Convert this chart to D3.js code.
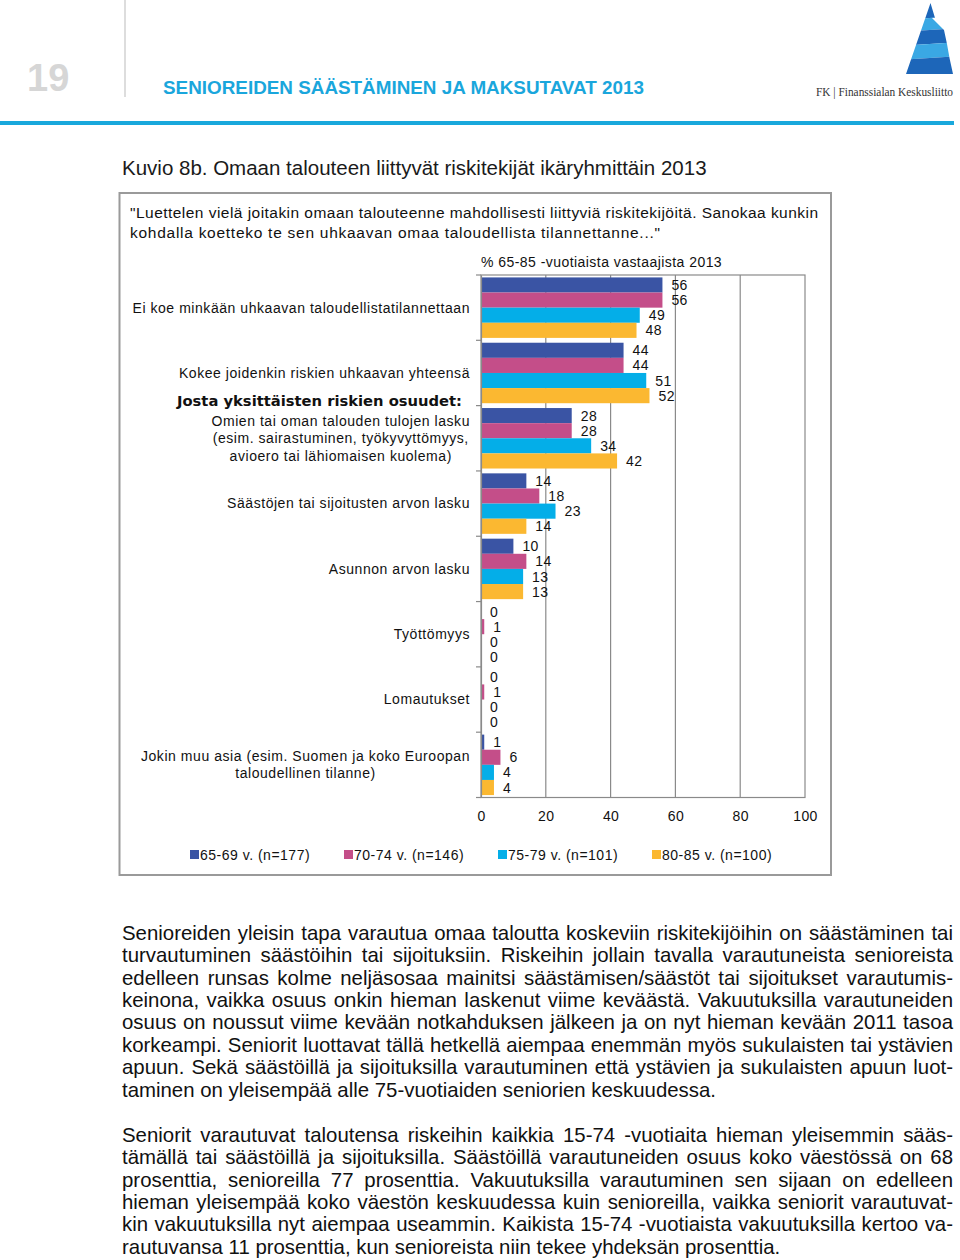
<!DOCTYPE html>
<html>
<head>
<meta charset="utf-8">
<script src="https://cdn.jsdelivr.net/npm/d3@7"></script>
<style>
  html, body { margin: 0; padding: 0; background: #fff; }
  svg { display: block; }
  text { font-family: "Liberation Sans", Arial, sans-serif; }
</style>
</head>
<body>
<svg id="page" width="960" height="1260"></svg>
<script>
// ---------------- DATA ----------------
const categoryLabels = [
  ["Ei koe minkään uhkaavan taloudellistatilannettaan"],
  ["Kokee joidenkin riskien uhkaavan yhteensä"],
  ["Omien tai oman talouden tulojen lasku", "(esim. sairastuminen, työkyvyttömyys,", "avioero tai lähiomaisen kuolema)"],
  ["Säästöjen tai sijoitusten arvon lasku"],
  ["Asunnon arvon lasku"],
  ["Työttömyys"],
  ["Lomautukset"],
  ["Jokin muu asia (esim. Suomen ja koko Euroopan", "taloudellinen tilanne)"]
];
const seriesNames = ["65-69 v. (n=177)", "70-74 v. (n=146)", "75-79 v. (n=101)", "80-85 v. (n=100)"];
const values6569 = [56, 44, 28, 14, 10, 0, 0, 1];
const values7074 = [56, 44, 28, 18, 14, 1, 1, 6];
const values7579 = [49, 51, 34, 23, 13, 0, 0, 4];
const values8085 = [48, 52, 42, 14, 13, 0, 0, 4];
const seriesColors = ["#3a54a4", "#c44e89", "#04aee8", "#fbb831"];
const xTickValues = [0, 20, 40, 60, 80, 100];

const pageNumber = "19";
const headerTitle = "SENIOREIDEN SÄÄSTÄMINEN JA MAKSUTAVAT 2013";
const logoText = "FK | Finanssialan Keskusliitto";
const figureTitle = "Kuvio 8b. Omaan talouteen liittyvät riskitekijät ikäryhmittäin 2013";
const questionLines = [
  "\"Luettelen vielä joitakin omaan talouteenne mahdollisesti liittyviä riskitekijöitä. Sanokaa kunkin",
  "kohdalla koetteko te sen uhkaavan omaa taloudellista tilannettanne...\""
];
const unitLabel = "% 65-85 -vuotiaista vastaajista 2013";
const subHeader = "Josta yksittäisten riskien osuudet:";

const paragraph1 = [
  "Senioreiden yleisin tapa varautua omaa taloutta koskeviin riskitekijöihin on säästäminen tai",
  "turvautuminen säästöihin tai sijoituksiin. Riskeihin jollain tavalla varautuneista senioreista",
  "edelleen runsas kolme neljäsosaa mainitsi säästämisen/säästöt tai sijoitukset varautumis-",
  "keinona, vaikka osuus onkin hieman laskenut viime keväästä. Vakuutuksilla varautuneiden",
  "osuus on noussut viime kevään notkahduksen jälkeen ja on nyt hieman kevään 2011 tasoa",
  "korkeampi. Seniorit luottavat tällä hetkellä aiempaa enemmän myös sukulaisten tai ystävien",
  "apuun. Sekä säästöillä ja sijoituksilla varautuminen että ystävien ja sukulaisten apuun luot-",
  "taminen on yleisempää alle 75-vuotiaiden seniorien keskuudessa."
];
const paragraph2 = [
  "Seniorit varautuvat taloutensa riskeihin kaikkia 15-74 -vuotiaita hieman yleisemmin sääs-",
  "tämällä tai säästöillä ja sijoituksilla. Säästöillä varautuneiden osuus koko väestössä on 68",
  "prosenttia, senioreilla 77 prosenttia. Vakuutuksilla varautuminen sen sijaan on edelleen",
  "hieman yleisempää koko väestön keskuudessa kuin senioreilla, vaikka seniorit varautuvat-",
  "kin vakuutuksilla nyt aiempaa useammin. Kaikista 15-74 -vuotiaista vakuutuksilla kertoo va-",
  "rautuvansa 11 prosenttia, kun senioreista niin tekee yhdeksän prosenttia."
];

// ---------------- DRAW ----------------
const svg = d3.select("#page");
svg.append("rect").attr("width", 960).attr("height", 1260).attr("fill", "#fff");

// Header
svg.append("text").attr("x", 27).attr("y", 91).text(pageNumber)
  .attr("font-size", 38).attr("font-weight", "bold").attr("fill", "#d6d6d6");
svg.append("line").attr("x1", 125).attr("x2", 125).attr("y1", 0).attr("y2", 97)
  .attr("stroke", "#dddddd").attr("stroke-width", 2);
svg.append("text").attr("x", 163).attr("y", 94).text(headerTitle)
  .attr("font-size", 18.5).attr("font-weight", "bold").attr("fill", "#1aa6dc")
  .attr("textLength", 481).attr("lengthAdjust", "spacingAndGlyphs");
svg.append("rect").attr("x", 0).attr("y", 121).attr("width", 954).attr("height", 4).attr("fill", "#19a8dc");

// Logo
const logo = svg.append("g");
const outline = [[930.5,3],[935,18],[932,18],[944,30],[947,44],[949.5,58],[953,74],[906,74]];
logo.append("clipPath").attr("id", "logoclip").append("polygon")
  .attr("points", outline.map(p => p.join(",")).join(" "));
const stripes = [[0, 18, "#1d66b9"], [18, 30, "#3aa8e4"], [30, 44, "#1d66b9"], [44, 58, "#3aa8e4"], [58, 80, "#1d66b9"]];
stripes.forEach(([a, b, c]) => {
  logo.append("polygon").attr("clip-path", "url(#logoclip)")
    .attr("points", `900,${a+2} 960,${a-2} 960,${b-2} 900,${b+2}`).attr("fill", c);
});
svg.append("text").attr("x", 816).attr("y", 96).text(logoText)
  .attr("font-size", 11.5).attr("fill", "#333").attr("textLength", 137).attr("lengthAdjust", "spacingAndGlyphs")
  .style("font-family", "'Liberation Serif', serif");

// Figure title
svg.append("text").attr("x", 122).attr("y", 175).text(figureTitle)
  .attr("font-size", 20.5).attr("fill", "#1a1a1a");

// Chart box
svg.append("rect").attr("x", 119.5).attr("y", 193).attr("width", 711.5).attr("height", 682)
  .attr("fill", "#fff").attr("stroke", "#9a9a9a").attr("stroke-width", 2);

const questionWidths = [688, 530];
questionLines.forEach((t, i) => {
  svg.append("text").attr("x", 130).attr("y", 218 + i * 20).text(t)
    .attr("font-size", 15.5).attr("fill", "#111")
    .attr("textLength", questionWidths[i]).attr("lengthAdjust", "spacing");
});
svg.append("text").attr("x", 481).attr("y", 267).text(unitLabel)
  .attr("font-size", 14).attr("letter-spacing", 0.45).attr("fill", "#111");

// Plot
const plot = { left: 481, right: 805, top: 275, bottom: 797.5 };
const x = d3.scaleLinear().domain([0, 100]).range([plot.left, plot.right]);
const catIdx = d3.range(categoryLabels.length);
const y0 = d3.scaleBand().domain(catIdx).range([plot.top, plot.bottom]).padding(0);
const y1 = d3.scaleBand().domain(d3.range(seriesNames.length)).range([0, y0.bandwidth()])
  .paddingInner(0).paddingOuter(0.16);
const seriesValues = [values6569, values7074, values7579, values8085];

// gridlines
svg.append("g").selectAll("line").data(xTickValues.slice(1, -1)).join("line")
  .attr("x1", d => x(d)).attr("x2", d => x(d)).attr("y1", plot.top).attr("y2", plot.bottom)
  .attr("stroke", "#8a8a8a").attr("stroke-width", 1.2);
// frame
svg.append("rect").attr("x", plot.left).attr("y", plot.top)
  .attr("width", plot.right - plot.left).attr("height", plot.bottom - plot.top)
  .attr("fill", "none").attr("stroke", "#8a8a8a").attr("stroke-width", 1.2);

// bars
const barsG = svg.append("g");
seriesValues.forEach((vals, s) => {
  barsG.append("g").selectAll("rect").data(vals).join("rect")
    .attr("x", x(0))
    .attr("y", (d, i) => y0(i) + y1(s))
    .attr("width", d => x(d) - x(0))
    .attr("height", y1.bandwidth())
    .attr("fill", seriesColors[s]);
  barsG.append("g").selectAll("text").data(vals).join("text")
    .attr("x", d => x(d) + 9)
    .attr("y", (d, i) => y0(i) + y1(s) + y1.bandwidth() / 2)
    .attr("dy", "0.36em")
    .attr("font-size", 14).attr("letter-spacing", 0.4).attr("fill", "#111")
    .text(d => d);
});

// y axis
const yAxis = d3.axisLeft(y0).tickValues([]).tickSizeOuter(0);
const yAxisG = svg.append("g").attr("transform", `translate(${plot.left},0)`).call(yAxis);
yAxisG.select(".domain").attr("stroke", "#8a8a8a").attr("stroke-width", 1.2);
svg.append("g").selectAll("line").data(d3.range(categoryLabels.length + 1)).join("line")
  .attr("x1", plot.left - 5).attr("x2", plot.left)
  .attr("y1", i => plot.top + i * y0.step()).attr("y2", i => plot.top + i * y0.step())
  .attr("stroke", "#8a8a8a").attr("stroke-width", 1.2);

// x axis labels
const xAxis = d3.axisBottom(x).tickValues(xTickValues).tickSize(0).tickPadding(14);
const xAxisG = svg.append("g").attr("transform", `translate(0,${plot.bottom})`).call(xAxis);
xAxisG.select(".domain").remove();
xAxisG.selectAll("text").attr("font-size", 14).attr("letter-spacing", 0.4).attr("fill", "#111")
  .style("font-family", "'Liberation Sans', Arial, sans-serif");

// category labels
const labelRight = 470;
categoryLabels.forEach((lines, i) => {
  const cy = y0(i) + y0.bandwidth() / 2;
  const spacing = lines.length === 3 ? 17.5 : 17;
  const g = svg.append("g");
  const texts = lines.map((t, k) => g.append("text")
    .attr("y", cy + (k - (lines.length - 1) / 2) * spacing)
    .attr("dy", "0.35em").attr("font-size", 14).attr("letter-spacing", 0.55).attr("fill", "#111").text(t));
  const maxW = d3.max(texts, t => t.node().getComputedTextLength());
  texts.forEach(t => t.attr("x", labelRight - maxW / 2).attr("text-anchor", "middle"));
});
svg.append("text").attr("x", 462).attr("y", 401).attr("dy", "0.35em")
  .attr("text-anchor", "end").text(subHeader)
  .attr("font-size", 13.5).attr("font-weight", "bold").attr("fill", "#111")
  .attr("textLength", 285).attr("lengthAdjust", "spacingAndGlyphs")
  .style("font-family", "'DejaVu Sans', Verdana, sans-serif");

// legend
const legendX = [190, 344, 498, 652];
seriesNames.forEach((n, s) => {
  svg.append("rect").attr("x", legendX[s]).attr("y", 850).attr("width", 9).attr("height", 9)
    .attr("fill", seriesColors[s]);
  svg.append("text").attr("x", legendX[s] + 10).attr("y", 854.5).attr("dy", "0.36em")
    .attr("font-size", 14).attr("letter-spacing", 0.5).attr("fill", "#111").text(n);
});

// Body paragraphs (justified)
function drawParagraph(lines, y0p, lh) {
  lines.forEach((t, i) => {
    const el = svg.append("text").attr("x", 122).attr("y", y0p + i * lh)
      .attr("font-size", 20.4).attr("fill", "#111").attr("xml:space", "preserve").text(t);
    if (i < lines.length - 1) {
      const w = el.node().getComputedTextLength();
      const spaces = (t.match(/ /g) || []).length;
      if (spaces > 0) el.style("word-spacing", ((831 - w) / spaces) + "px");
    }
  });
}
drawParagraph(paragraph1, 940, 22.37);
drawParagraph(paragraph2, 1142, 22.3);
</script>
</body>
</html>
